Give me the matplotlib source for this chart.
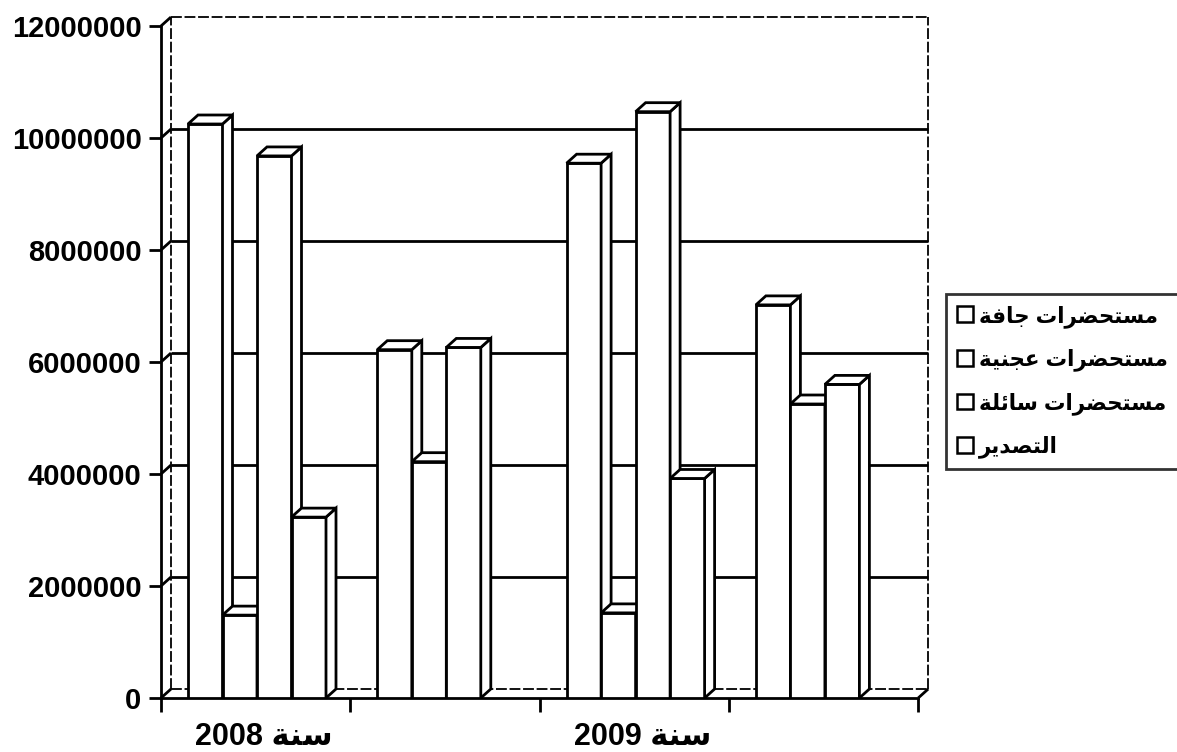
import numpy as np
import matplotlib.pyplot as plt
import matplotlib.transforms as mtransforms
from matplotlib.patches import Polygon, Patch

# data
categories = ['سنة 2008', '', 'سنة 2009', '']
series_names = ['مستحضرات جافة', 'مستحضرات عجنية', 'مستحضرات سائلة', 'التصدير']
dry = [10250000, 6220000, 9550000, 7020000]
paste = [1480000, 4220000, 1520000, 5250000]
liquid = [9680000, 6260000, 10470000, 5600000]
export = [3230000, 0, 3920000, 0]
yticks = [0, 2000000, 4000000, 6000000, 8000000, 10000000, 12000000]

# arabic shaping (presentation forms), matplotlib has no bidi/shaping
FORMS = {
    'ئ': ('\uFE89', '\uFE8A', '\uFE8B', '\uFE8C'),
    'ا': ('\uFE8D', '\uFE8E', None, None),
    'ة': ('\uFE93', '\uFE94', None, None),
    'ت': ('\uFE95', '\uFE96', '\uFE97', '\uFE98'),
    'ج': ('\uFE9D', '\uFE9E', '\uFE9F', '\uFEA0'),
    'ح': ('\uFEA1', '\uFEA2', '\uFEA3', '\uFEA4'),
    'د': ('\uFEA9', '\uFEAA', None, None),
    'ر': ('\uFEAD', '\uFEAE', None, None),
    'س': ('\uFEB1', '\uFEB2', '\uFEB3', '\uFEB4'),
    'ص': ('\uFEB9', '\uFEBA', '\uFEBB', '\uFEBC'),
    'ض': ('\uFEBD', '\uFEBE', '\uFEBF', '\uFEC0'),
    'ع': ('\uFEC9', '\uFECA', '\uFECB', '\uFECC'),
    'ف': ('\uFED1', '\uFED2', '\uFED3', '\uFED4'),
    'ل': ('\uFEDD', '\uFEDE', '\uFEDF', '\uFEE0'),
    'م': ('\uFEE1', '\uFEE2', '\uFEE3', '\uFEE4'),
    'ن': ('\uFEE5', '\uFEE6', '\uFEE7', '\uFEE8'),
    'ي': ('\uFEF1', '\uFEF2', '\uFEF3', '\uFEF4'),
}


def shape(word):
    out = []
    for i, ch in enumerate(word):
        iso, fin, ini, med = FORMS[ch]
        jp = i > 0 and FORMS[word[i - 1]][2] is not None
        jn = i + 1 < len(word) and ini is not None
        if jp and jn:
            out.append(med)
        elif jp:
            out.append(fin)
        elif jn:
            out.append(ini)
        else:
            out.append(iso)
    return ''.join(out)


def rtl(text):
    if not text:
        return text
    words = text.split(' ')
    words = [w if w.isdigit() else shape(w)[::-1] for w in words]
    return ' '.join(words[::-1])


plt.rcParams['font.family'] = ['Liberation Sans', 'DejaVu Sans']
plt.rcParams['font.weight'] = 'bold'

W_PX, H_PX = 1177, 752
fig = plt.figure(figsize=(W_PX / 100, H_PX / 100), dpi=100)

# pixel layout of the front plane
x0_px, unit_px = 161, 189.3
y0_px, m_px = 698, 56.0
DX = 10 / unit_px
DY = 9 / m_px * 1e6
top = 12e6 + DY
ax = fig.add_axes([x0_px / W_PX, (H_PX - y0_px) / H_PX,
                   (4 + DX) * unit_px / W_PX, (top / 1e6 * m_px) / H_PX])
ax.set_xlim(0, 4 + DX)
ax.set_ylim(0, top)

lw = 2.0
kw = dict(color='black', lw=lw, clip_on=False, solid_capstyle='butt')
dash = dict(color='black', lw=1.3, clip_on=False, dashes=(6, 1.5))

# walls
for v in yticks[1:-1]:
    ax.plot([DX, 4 + DX], [v + DY, v + DY], zorder=1, **kw)
for v in yticks:
    ax.plot([0, DX], [v, v + DY], zorder=1, **kw)
ax.plot([DX, 4 + DX], [top, top], zorder=1, **dash)
ax.plot([DX, DX], [DY, top], zorder=1, **dash)
ax.plot([4 + DX, 4 + DX], [DY, top], zorder=1, **dash)
ax.plot([DX, 4 + DX], [DY, DY], zorder=1, **dash)
ax.plot([4, 4 + DX], [0, DY], zorder=1, **kw)

# 3d bars
series = [dry, paste, liquid, export]
bw = 34.5 / unit_px
off = 27 / unit_px
z = 3
for c in range(len(categories)):
    for s, vals in enumerate(series):
        h = vals[c]
        if h <= 0:
            continue
        x = c + off + s * bw
        z += 0.01
        ax.bar(x, h, width=bw, align='edge', facecolor='white',
               edgecolor='black', linewidth=lw, zorder=z)
        side = [(x + bw, 0), (x + bw + DX, DY), (x + bw + DX, h + DY), (x + bw, h)]
        topf = [(x, h), (x + bw, h), (x + bw + DX, h + DY), (x + DX, h + DY)]
        for pts in (side, topf):
            ax.add_patch(Polygon(pts, closed=True, facecolor='white',
                                 edgecolor='black', linewidth=lw,
                                 joinstyle='miter', zorder=z))

# axes
for sp in ['top', 'right']:
    ax.spines[sp].set_visible(False)
ax.spines['left'].set_bounds(0, 12e6)
ax.spines['bottom'].set_bounds(0, 4)
ax.spines['left'].set_linewidth(lw)
ax.spines['bottom'].set_linewidth(lw)
ax.set_yticks(yticks)
ax.set_yticklabels([str(v) for v in yticks])
ax.tick_params(axis='y', direction='out', length=9, width=lw, labelsize=21, pad=5)
ax.set_xticks(np.arange(len(categories) + 1))
ax.set_xticklabels([])
ax.tick_params(axis='x', which='major', direction='out', length=10, width=lw)
ax.set_xticks(np.arange(len(categories)) + 0.5, minor=True)
ax.set_xticklabels([rtl(c) for c in categories], minor=True)
ax.tick_params(axis='x', which='minor', length=0, labelsize=22, pad=17)
shift = mtransforms.ScaledTranslation(8 / 100, 0, fig.dpi_scale_trans)
for lab in ax.get_xticklabels(minor=True):
    lab.set_transform(lab.get_transform() + shift)

handles = [Patch(facecolor='white', edgecolor='black', linewidth=1.8) for _ in series_names]
leg = fig.legend(handles, [rtl(n) for n in series_names], loc='upper left',
                 bbox_to_anchor=(946 / W_PX, 1 - 294 / H_PX), fontsize=15.5,
                 frameon=True, fancybox=False, edgecolor='black',
                 handlelength=0.75, handleheight=0.75, handletextpad=0.3,
                 labelspacing=0.97, borderpad=0.5, borderaxespad=0)
leg.get_frame().set_linewidth(lw)

fig.savefig('out.png', dpi=100)
